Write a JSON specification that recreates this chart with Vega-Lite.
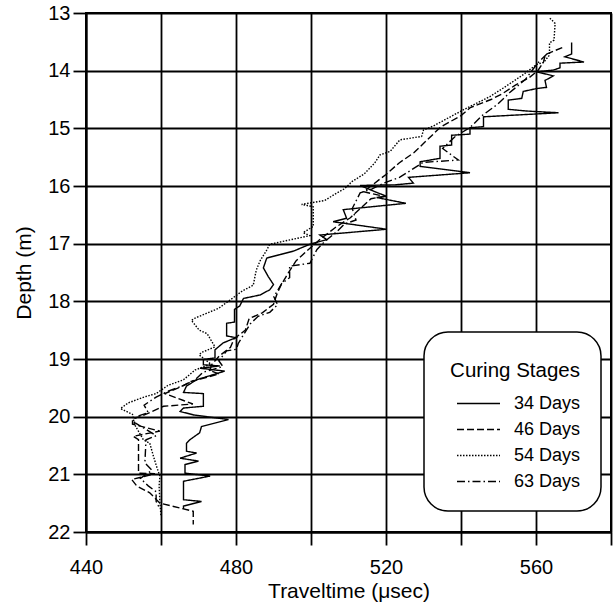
{
  "$schema": "https://vega.github.io/schema/vega-lite/v6.json",
  "width": 525,
  "height": 519,
  "autosize": {"type": "none"},
  "padding": {"left": 86, "top": 13, "right": 3, "bottom": 73},
  "background": "white",
  "config": {
    "font": "Liberation Sans",
    "view": {"stroke": "black", "strokeWidth": 2},
    "axis": {
      "gridColor": "black", "gridWidth": 1.8, "gridOpacity": 1,
      "domainColor": "black", "domainWidth": 2,
      "tickColor": "black", "tickWidth": 1.8, "tickSize": 13,
      "labelColor": "black", "labelFontSize": 20, "labelFlush": false,
      "titleFontSize": 21, "titleFontWeight": "normal", "titleColor": "black"
    },
    "legend": {"strokeWidth": 1.5}
  },
  "data": {"values": [
    {"s":"34 Days","d":13.51,"t":569.5},{"s":"34 Days","d":13.71,"t":569.5},{"s":"34 Days","d":13.76,"t":567.7},{"s":"34 Days","d":13.85,"t":572.8},{"s":"34 Days","d":13.87,"t":566.4},{"s":"34 Days","d":13.95,"t":566.4},{"s":"34 Days","d":13.99,"t":564.6},{"s":"34 Days","d":14.02,"t":560.2},{"s":"34 Days","d":14.09,"t":564.6},{"s":"34 Days","d":14.17,"t":562.4},{"s":"34 Days","d":14.29,"t":562.8},{"s":"34 Days","d":14.31,"t":560.2},{"s":"34 Days","d":14.36,"t":556.6},{"s":"34 Days","d":14.48,"t":556.2},{"s":"34 Days","d":14.51,"t":552.6},{"s":"34 Days","d":14.67,"t":552.6},{"s":"34 Days","d":14.70,"t":557.5},{"s":"34 Days","d":14.73,"t":566.0},{"s":"34 Days","d":14.80,"t":546.0},{"s":"34 Days","d":14.97,"t":546.0},{"s":"34 Days","d":14.99,"t":542.4},{"s":"34 Days","d":15.10,"t":542.4},{"s":"34 Days","d":15.12,"t":537.5},{"s":"34 Days","d":15.29,"t":537.5},{"s":"34 Days","d":15.31,"t":534.4},{"s":"34 Days","d":15.52,"t":534.4},{"s":"34 Days","d":15.58,"t":529.1},{"s":"34 Days","d":15.66,"t":529.1},{"s":"34 Days","d":15.77,"t":542.4},{"s":"34 Days","d":15.85,"t":526.0},{"s":"34 Days","d":15.95,"t":527.3},{"s":"34 Days","d":15.98,"t":522.4},{"s":"34 Days","d":15.99,"t":513.1},{"s":"34 Days","d":16.10,"t":517.1},{"s":"34 Days","d":16.18,"t":520.2},{"s":"34 Days","d":16.20,"t":517.5},{"s":"34 Days","d":16.30,"t":525.3},{"s":"34 Days","d":16.41,"t":508.6},{"s":"34 Days","d":16.56,"t":509.5},{"s":"34 Days","d":16.62,"t":505.9},{"s":"34 Days","d":16.75,"t":520.2},{"s":"34 Days","d":16.85,"t":502.4},{"s":"34 Days","d":16.93,"t":504.2},{"s":"34 Days","d":17.01,"t":499.7},{"s":"34 Days","d":17.13,"t":495.3},{"s":"34 Days","d":17.19,"t":491.7},{"s":"34 Days","d":17.25,"t":488.2},{"s":"34 Days","d":17.42,"t":487.3},{"s":"34 Days","d":17.57,"t":488.6},{"s":"34 Days","d":17.71,"t":490.0},{"s":"34 Days","d":17.80,"t":489.0},{"s":"34 Days","d":17.89,"t":486.4},{"s":"34 Days","d":17.95,"t":482.0},{"s":"34 Days","d":18.08,"t":481.0},{"s":"34 Days","d":18.14,"t":479.6},{"s":"34 Days","d":18.36,"t":479.6},{"s":"34 Days","d":18.38,"t":477.5},{"s":"34 Days","d":18.60,"t":477.5},{"s":"34 Days","d":18.63,"t":480.0},{"s":"34 Days","d":18.72,"t":476.6},{"s":"34 Days","d":18.84,"t":474.4},{"s":"34 Days","d":18.98,"t":474.4},{"s":"34 Days","d":19.01,"t":471.3},{"s":"34 Days","d":19.10,"t":471.3},{"s":"34 Days","d":19.12,"t":475.7},{"s":"34 Days","d":19.16,"t":470.4},{"s":"34 Days","d":19.21,"t":477.0},{"s":"34 Days","d":19.36,"t":469.5},{"s":"34 Days","d":19.47,"t":466.8},{"s":"34 Days","d":19.58,"t":466.0},{"s":"34 Days","d":19.60,"t":471.3},{"s":"34 Days","d":19.82,"t":471.3},{"s":"34 Days","d":19.85,"t":466.0},{"s":"34 Days","d":19.91,"t":465.1},{"s":"34 Days","d":19.97,"t":468.7},{"s":"34 Days","d":20.05,"t":478.0},{"s":"34 Days","d":20.17,"t":470.8},{"s":"34 Days","d":20.28,"t":470.3},{"s":"34 Days","d":20.40,"t":467.7},{"s":"34 Days","d":20.46,"t":466.8},{"s":"34 Days","d":20.60,"t":466.8},{"s":"34 Days","d":20.63,"t":469.5},{"s":"34 Days","d":20.72,"t":465.1},{"s":"34 Days","d":20.77,"t":470.0},{"s":"34 Days","d":20.83,"t":466.4},{"s":"34 Days","d":20.98,"t":466.4},{"s":"34 Days","d":21.03,"t":473.1},{"s":"34 Days","d":21.12,"t":466.0},{"s":"34 Days","d":21.44,"t":466.0},{"s":"34 Days","d":21.47,"t":470.8},{"s":"34 Days","d":21.55,"t":466.0},{"s":"34 Days","d":21.60,"t":466.0},
    {"s":"46 Days","d":13.60,"t":567.0},{"s":"46 Days","d":13.72,"t":562.5},{"s":"46 Days","d":13.85,"t":562.0},{"s":"46 Days","d":14.00,"t":560.5},{"s":"46 Days","d":14.13,"t":558.0},{"s":"46 Days","d":14.25,"t":554.5},{"s":"46 Days","d":14.40,"t":551.0},{"s":"46 Days","d":14.50,"t":548.0},{"s":"46 Days","d":14.64,"t":542.5},{"s":"46 Days","d":14.78,"t":540.0},{"s":"46 Days","d":14.98,"t":534.5},{"s":"46 Days","d":15.20,"t":531.0},{"s":"46 Days","d":15.42,"t":527.5},{"s":"46 Days","d":15.60,"t":523.5},{"s":"46 Days","d":15.80,"t":520.0},{"s":"46 Days","d":16.00,"t":516.0},{"s":"46 Days","d":16.10,"t":514.0},{"s":"46 Days","d":16.18,"t":519.5},{"s":"46 Days","d":16.22,"t":516.0},{"s":"46 Days","d":16.40,"t":513.0},{"s":"46 Days","d":16.55,"t":510.5},{"s":"46 Days","d":16.72,"t":506.5},{"s":"46 Days","d":16.92,"t":502.5},{"s":"46 Days","d":17.12,"t":499.0},{"s":"46 Days","d":17.30,"t":496.0},{"s":"46 Days","d":17.50,"t":494.0},{"s":"46 Days","d":17.72,"t":492.0},{"s":"46 Days","d":17.86,"t":491.0},{"s":"46 Days","d":18.05,"t":490.0},{"s":"46 Days","d":18.20,"t":487.0},{"s":"46 Days","d":18.30,"t":483.5},{"s":"46 Days","d":18.50,"t":482.5},{"s":"46 Days","d":18.65,"t":479.5},{"s":"46 Days","d":18.80,"t":478.5},{"s":"46 Days","d":18.95,"t":475.5},{"s":"46 Days","d":19.10,"t":473.5},{"s":"46 Days","d":19.20,"t":473.0},{"s":"46 Days","d":19.26,"t":475.5},{"s":"46 Days","d":19.39,"t":468.0},{"s":"46 Days","d":19.49,"t":465.0},{"s":"46 Days","d":19.60,"t":461.0},{"s":"46 Days","d":19.72,"t":466.0},{"s":"46 Days","d":19.78,"t":468.5},{"s":"46 Days","d":19.82,"t":460.7},{"s":"46 Days","d":20.00,"t":454.5},{"s":"46 Days","d":20.03,"t":452.4},{"s":"46 Days","d":20.13,"t":452.4},{"s":"46 Days","d":20.25,"t":459.7},{"s":"46 Days","d":20.34,"t":452.6},{"s":"46 Days","d":20.40,"t":454.0},{"s":"46 Days","d":20.98,"t":454.0},{"s":"46 Days","d":20.99,"t":458.4},{"s":"46 Days","d":21.09,"t":452.2},{"s":"46 Days","d":21.20,"t":453.5},{"s":"46 Days","d":21.32,"t":457.0},{"s":"46 Days","d":21.50,"t":459.7},{"s":"46 Days","d":21.64,"t":468.6},{"s":"46 Days","d":21.87,"t":468.6},
    {"s":"54 Days","d":13.09,"t":563.7},{"s":"54 Days","d":13.18,"t":565.1},{"s":"54 Days","d":13.47,"t":564.8},{"s":"54 Days","d":13.52,"t":563.6},{"s":"54 Days","d":13.73,"t":563.6},{"s":"54 Days","d":13.86,"t":562.0},{"s":"54 Days","d":13.89,"t":560.2},{"s":"54 Days","d":14.07,"t":556.6},{"s":"54 Days","d":14.30,"t":551.3},{"s":"54 Days","d":14.45,"t":547.7},{"s":"54 Days","d":14.68,"t":540.6},{"s":"54 Days","d":14.96,"t":532.6},{"s":"54 Days","d":15.03,"t":530.0},{"s":"54 Days","d":15.14,"t":529.5},{"s":"54 Days","d":15.20,"t":523.7},{"s":"54 Days","d":15.40,"t":521.1},{"s":"54 Days","d":15.46,"t":518.4},{"s":"54 Days","d":15.60,"t":517.0},{"s":"54 Days","d":15.79,"t":514.2},{"s":"54 Days","d":15.92,"t":511.0},{"s":"54 Days","d":16.05,"t":508.9},{"s":"54 Days","d":16.12,"t":506.9},{"s":"54 Days","d":16.25,"t":503.7},{"s":"54 Days","d":16.32,"t":497.5},{"s":"54 Days","d":16.36,"t":500.6},{"s":"54 Days","d":16.70,"t":500.6},{"s":"54 Days","d":16.81,"t":497.9},{"s":"54 Days","d":16.86,"t":499.7},{"s":"54 Days","d":17.01,"t":489.0},{"s":"54 Days","d":17.11,"t":488.2},{"s":"54 Days","d":17.30,"t":486.4},{"s":"54 Days","d":17.46,"t":485.4},{"s":"54 Days","d":17.72,"t":484.6},{"s":"54 Days","d":17.82,"t":481.7},{"s":"54 Days","d":17.92,"t":479.6},{"s":"54 Days","d":18.12,"t":475.4},{"s":"54 Days","d":18.29,"t":469.1},{"s":"54 Days","d":18.33,"t":468.1},{"s":"54 Days","d":18.50,"t":470.2},{"s":"54 Days","d":18.56,"t":472.3},{"s":"54 Days","d":18.79,"t":474.4},{"s":"54 Days","d":18.89,"t":470.7},{"s":"54 Days","d":18.93,"t":470.2},{"s":"54 Days","d":19.09,"t":473.3},{"s":"54 Days","d":19.19,"t":469.1},{"s":"54 Days","d":19.36,"t":466.0},{"s":"54 Days","d":19.46,"t":461.8},{"s":"54 Days","d":19.60,"t":458.7},{"s":"54 Days","d":19.66,"t":455.5},{"s":"54 Days","d":19.76,"t":451.3},{"s":"54 Days","d":19.86,"t":449.2},{"s":"54 Days","d":19.96,"t":452.4},{"s":"54 Days","d":20.13,"t":452.9},{"s":"54 Days","d":20.40,"t":455.3},{"s":"54 Days","d":20.46,"t":457.0},{"s":"54 Days","d":20.69,"t":458.0},{"s":"54 Days","d":20.86,"t":458.8},{"s":"54 Days","d":21.03,"t":459.7},{"s":"54 Days","d":21.20,"t":459.5},{"s":"54 Days","d":21.47,"t":459.7},{"s":"54 Days","d":21.73,"t":460.0},
    {"s":"63 Days","d":13.71,"t":562.9},{"s":"63 Days","d":13.88,"t":560.3},{"s":"63 Days","d":14.15,"t":557.2},{"s":"63 Days","d":14.38,"t":553.0},{"s":"63 Days","d":14.58,"t":549.8},{"s":"63 Days","d":14.78,"t":545.6},{"s":"63 Days","d":14.98,"t":542.5},{"s":"63 Days","d":15.15,"t":538.3},{"s":"63 Days","d":15.35,"t":535.1},{"s":"63 Days","d":15.55,"t":539.3},{"s":"63 Days","d":15.59,"t":529.9},{"s":"63 Days","d":15.72,"t":526.8},{"s":"63 Days","d":15.85,"t":523.6},{"s":"63 Days","d":15.95,"t":519.4},{"s":"63 Days","d":16.05,"t":516.3},{"s":"63 Days","d":16.12,"t":513.1},{"s":"63 Days","d":16.39,"t":511.0},{"s":"63 Days","d":16.59,"t":512.0},{"s":"63 Days","d":16.66,"t":508.9},{"s":"63 Days","d":16.79,"t":506.9},{"s":"63 Days","d":16.96,"t":503.7},{"s":"63 Days","d":17.10,"t":501.6},{"s":"63 Days","d":17.34,"t":499.7},{"s":"63 Days","d":17.39,"t":494.3},{"s":"63 Days","d":17.59,"t":494.3},{"s":"63 Days","d":17.69,"t":492.2},{"s":"63 Days","d":17.92,"t":490.1},{"s":"63 Days","d":18.06,"t":491.1},{"s":"63 Days","d":18.19,"t":489.0},{"s":"63 Days","d":18.26,"t":485.9},{"s":"63 Days","d":18.39,"t":483.8},{"s":"63 Days","d":18.73,"t":480.6},{"s":"63 Days","d":18.83,"t":480.1},{"s":"63 Days","d":18.86,"t":477.5},{"s":"63 Days","d":19.03,"t":475.4},{"s":"63 Days","d":19.13,"t":476.5},{"s":"63 Days","d":19.23,"t":471.2},{"s":"63 Days","d":19.36,"t":469.1},{"s":"63 Days","d":19.46,"t":466.0},{"s":"63 Days","d":19.56,"t":461.8},{"s":"63 Days","d":19.66,"t":458.7},{"s":"63 Days","d":19.80,"t":455.5},{"s":"63 Days","d":19.93,"t":456.6},{"s":"63 Days","d":20.00,"t":453.4},{"s":"63 Days","d":20.10,"t":452.9},{"s":"63 Days","d":20.20,"t":455.5},{"s":"63 Days","d":20.33,"t":458.7},{"s":"63 Days","d":20.40,"t":456.0},{"s":"63 Days","d":20.80,"t":455.7},{"s":"63 Days","d":20.93,"t":457.6},{"s":"63 Days","d":21.07,"t":454.5},{"s":"63 Days","d":21.20,"t":456.6},{"s":"63 Days","d":21.30,"t":458.7},{"s":"63 Days","d":21.47,"t":458.7},{"s":"63 Days","d":21.60,"t":459.7}
  ]},
  "mark": {"type": "line", "color": "black", "strokeWidth": 1.4},
  "encoding": {
    "x": {
      "field": "t", "type": "quantitative",
      "scale": {"domain": [440, 580], "nice": false, "zero": false},
      "axis": {
        "title": "Traveltime (μsec)",
        "values": [440, 460, 480, 500, 520, 540, 560, 580],
        "labelExpr": "datum.value % 40 == 0 ? datum.label : ''",
        "labelPadding": 12, "titlePadding": 3
      }
    },
    "y": {
      "field": "d", "type": "quantitative",
      "scale": {"domain": [13, 22], "reverse": true, "nice": false, "zero": false},
      "axis": {
        "title": "Depth (m)",
        "values": [13, 14, 15, 16, 17, 18, 19, 20, 21, 22],
        "labelPadding": 3, "titlePadding": 13
      }
    },
    "strokeDash": {
      "field": "s", "type": "nominal",
      "scale": {
        "domain": ["34 Days", "46 Days", "54 Days", "63 Days"],
        "range": [[1, 0], [7, 3], [1.5, 1.5], [8, 3, 1.5, 3]]
      },
      "legend": {
        "title": "Curing Stages",
        "orient": "none", "legendX": 338, "legendY": 319,
        "direction": "vertical",
        "symbolType": "M-2.15,0H2.15", "symbolSize": 400,
        "symbolStrokeWidth": 1.5, "symbolStrokeColor": "black", "symbolFillColor": "transparent",
        "labelFontSize": 18, "labelColor": "black",
        "titleFontSize": 20.5, "titleFontWeight": "normal", "titleColor": "black",
        "titleAnchor": "end", "titleBaseline": "line-top", "titleLineHeight": 38,
        "padding": 20, "cornerRadius": 24,
        "strokeColor": "black", "fillColor": "white",
        "titlePadding": 20, "rowPadding": 6,
        "labelOffset": 24.5, "symbolOffset": 23.5
      }
    },
    "order": {"field": "d", "type": "quantitative"}
  }
}
